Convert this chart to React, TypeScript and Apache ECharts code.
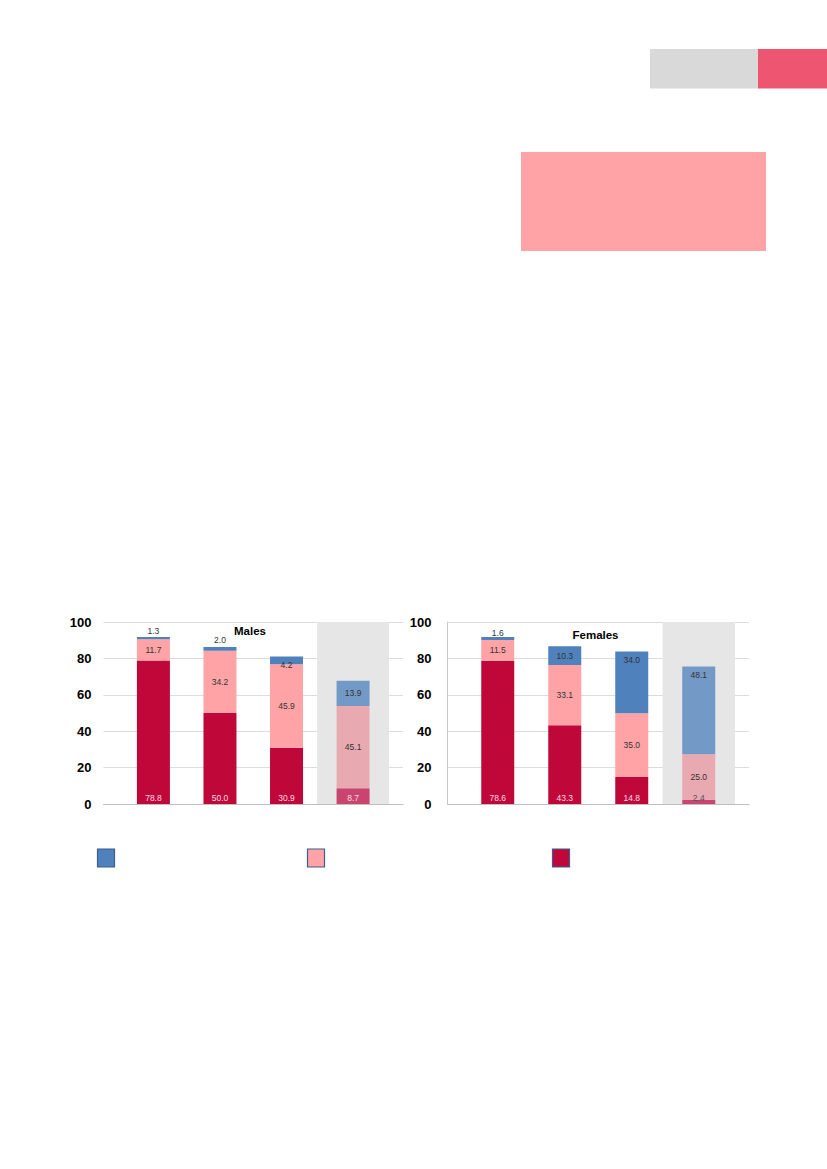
import React, { useEffect, useRef } from 'react';
import * as echarts from 'echarts';

// x positions of the four bar groups (ordinal index)
const groupIndex = [0, 1, 2, 3];

const maleRed = [78.8, 50.0, 30.9, 8.7];
const malePink = [11.7, 34.2, 45.9, 45.1];
const maleBlue = [1.3, 2.0, 4.2, 13.9];

const femaleRed = [78.6, 43.3, 14.8, 2.4];
const femalePink = [11.5, 33.1, 35.0, 25.0];
const femaleBlue = [1.6, 10.3, 34.0, 48.1];

const chartTitles = ['Males', 'Females'];

const COLORS = {
  red: '#c0073a',
  pink: '#ffa3a6',
  blue: '#4f81bd',
  redHi: '#c9456f',
  pinkHi: '#e8a9b0',
  blueHi: '#7399c6',
};

const LABEL_FONT = 'Liberation Sans, Arial, sans-serif';
const AXIS_FONT = '"Liberation Sans Narrow", "Arial Narrow", "Liberation Sans", Arial, sans-serif';

function buildSeries(
  gridIdx: number,
  red: number[],
  pink: number[],
  blue: number[],
  blueLabels: any[],
  redLabelColors: string[]
) {
  const stack = 'stack' + gridIdx;
  const fmt = (p: any) => Number(p.value[0]).toFixed(1);
  const base = {
    type: 'bar',
    xAxisIndex: gridIdx,
    yAxisIndex: gridIdx,
    stack,
    barWidth: 33,
    encode: { x: 1, y: 0 },
    z: 2,
  };
  const labelBase = {
    show: true,
    formatter: fmt,
    fontSize: 8.5,
    fontFamily: LABEL_FONT,
    color: '#333',
  };
  return [
    {
      ...base,
      name: 'red' + gridIdx,
      data: red.map((v, i) => ({
        value: [v, groupIndex[i]],
        itemStyle: { color: i === 3 ? COLORS.redHi : COLORS.red },
        label: { ...labelBase, position: 'insideBottom', distance: 2, color: redLabelColors[i] },
      })),
      markArea: {
        silent: true,
        z: 1,
        itemStyle: { color: '#e6e6e6', borderWidth: 0 },
        data: [[{ xAxis: 2.46 }, { xAxis: 3.54 }]],
      },
    },
    {
      ...base,
      name: 'pink' + gridIdx,
      data: pink.map((v, i) => ({
        value: [v, groupIndex[i]],
        itemStyle: { color: i === 3 ? COLORS.pinkHi : COLORS.pink },
        label: { ...labelBase, position: 'inside' },
      })),
    },
    {
      ...base,
      name: 'blue' + gridIdx,
      data: blue.map((v, i) => ({
        value: [v, groupIndex[i]],
        itemStyle: { color: i === 3 ? COLORS.blueHi : COLORS.blue },
        label: { ...labelBase, ...blueLabels[i] },
      })),
    },
  ];
}

export default function App() {
  const ref = useRef<HTMLDivElement>(null);

  useEffect(() => {
    if (!ref.current) return;
    const chart = echarts.init(ref.current, undefined, { renderer: 'svg' });

    const grids = [
      { left: 103.5, top: 622, width: 299.5, height: 182 },
      { left: 447.5, top: 622, width: 301.5, height: 182 },
    ];

    const xAxes = [0, 1].map((g) => ({
      type: 'value',
      gridIndex: g,
      min: -0.75,
      max: 3.75,
      axisLabel: { show: false },
      axisTick: { show: false },
      splitLine: { show: false },
      axisLine: { show: true, onZero: false, lineStyle: { color: '#bfbfbf', width: 1 } },
    }));

    const yAxes = [0, 1].map((g) => ({
      type: 'value',
      gridIndex: g,
      min: 0,
      max: 100,
      interval: 20,
      axisTick: { show: false },
      axisLine: { show: g === 1, onZero: false, lineStyle: { color: '#c8c8c8', width: 1 } },
      axisLabel: {
        color: '#000',
        fontWeight: 'bold',
        fontSize: 13,
        fontFamily: AXIS_FONT,
        margin: g === 0 ? 12 : 16,
      },
      splitLine: { show: true, lineStyle: { color: '#dcdcdc', width: 1 } },
    }));

    const maleBlueLabels = [
      { position: 'top', distance: 1 },
      { position: 'top', distance: 3 },
      { position: 'inside', offset: [0, 5] },
      { position: 'inside' },
    ];
    const femaleBlueLabels = [
      { position: 'top', distance: 0 },
      { position: 'inside' },
      { position: 'insideTop', distance: 4 },
      { position: 'insideTop', distance: 4 },
    ];

    const series = [
      ...buildSeries(0, maleRed, malePink, maleBlue, maleBlueLabels, ['#f6dbe2', '#f6dbe2', '#f6dbe2', '#f6dbe2']),
      ...buildSeries(1, femaleRed, femalePink, femaleBlue, femaleBlueLabels, ['#f6dbe2', '#f6dbe2', '#f6dbe2', '#555']),
    ];

    const legendSquare = (x: number, color: string) => ({
      type: 'rect',
      shape: { x, y: 849, width: 17, height: 18 },
      style: { fill: color, stroke: '#3b5f8e', lineWidth: 1.2 },
    });

    chart.setOption({
      animation: false,
      grid: grids,
      xAxis: xAxes,
      yAxis: yAxes,
      series,
      graphic: [
        { type: 'rect', shape: { x: 650, y: 49, width: 108, height: 39.5 }, style: { fill: '#d9d9d9' } },
        { type: 'rect', shape: { x: 758, y: 49, width: 69, height: 39.5 }, style: { fill: '#ee5571' } },
        { type: 'rect', shape: { x: 521, y: 152, width: 245, height: 99 }, style: { fill: '#ffa3a6' } },
        {
          type: 'text',
          x: 250,
          y: 631,
          style: {
            text: chartTitles[0],
            fill: '#000',
            font: 'bold 11.5px ' + AXIS_FONT,
            align: 'center',
            verticalAlign: 'middle',
          },
          z: 10,
        },
        {
          type: 'text',
          x: 595.5,
          y: 635,
          style: {
            text: chartTitles[1],
            fill: '#000',
            font: 'bold 11.5px ' + AXIS_FONT,
            align: 'center',
            verticalAlign: 'middle',
          },
          z: 10,
        },
        legendSquare(97.5, COLORS.blue),
        legendSquare(307.5, COLORS.pink),
        legendSquare(552.5, COLORS.red),
      ],
    });

    return () => {
      chart.dispose();
    };
  }, []);

  return (
    <div
      ref={ref}
      style={{ position: 'absolute', left: 0, top: 0, width: 827, height: 1169, background: '#fff' }}
    />
  );
}
